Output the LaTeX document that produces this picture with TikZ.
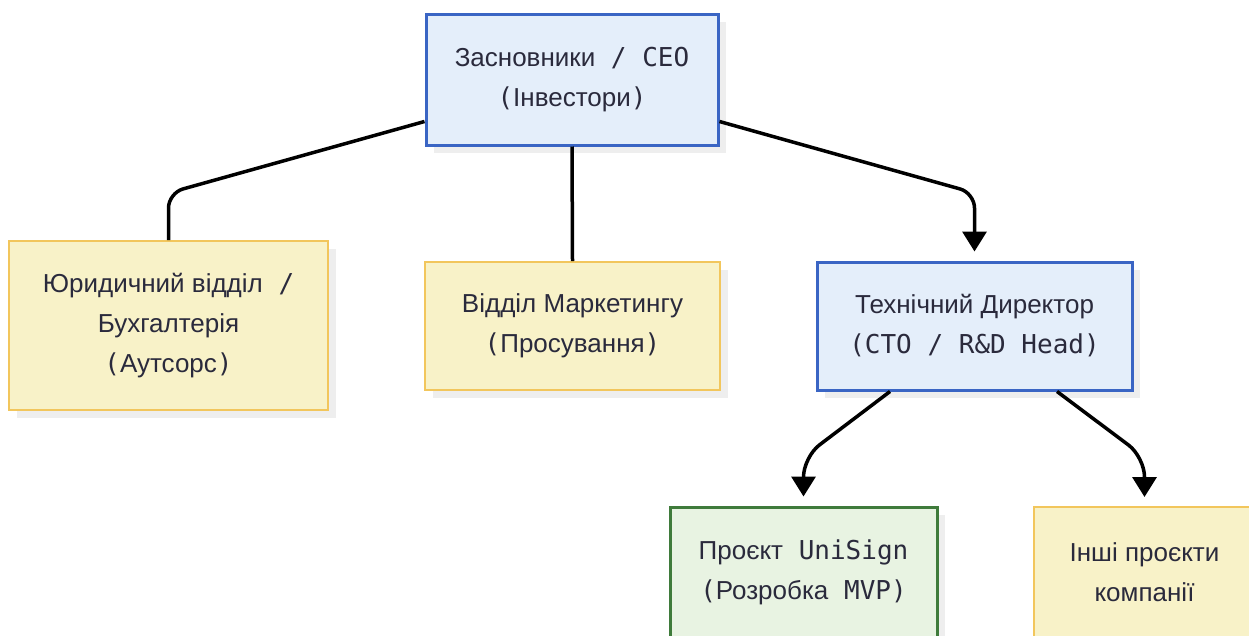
\documentclass[tikz,border=0pt]{standalone}
\usepackage{fontspec}
\setmainfont{DejaVu Sans Mono}
\newfontfamily\cyf{Liberation Sans}
\newcommand\cy[1]{{\cyf #1}}
\usetikzlibrary{arrows.meta,shadows,calc}
\definecolor{bluefill}{HTML}{E4EEFA}
\definecolor{blueline}{HTML}{3A65C4}
\definecolor{yelfill}{HTML}{F8F2C8}
\definecolor{yelline}{HTML}{F2C65C}
\definecolor{grnfill}{HTML}{E8F3E2}
\definecolor{grnline}{HTML}{3F7B3B}
\definecolor{shadowgray}{HTML}{EEEEEE}
\definecolor{txt}{HTML}{2A2A3C}
\tikzset{
  x=1pt, y=-1pt,
  box/.style={rectangle, align=center, inner sep=0pt, text=txt,
    font=\fontsize{26}{40}\selectfont,
    drop shadow={shadow xshift=8pt, shadow yshift=-8pt, opacity=1, fill=shadowgray}},
  bluebox/.style={box, fill=bluefill, draw=blueline, line width=3pt},
  yelbox/.style={box, fill=yelfill, draw=yelline, line width=2pt},
  grnbox/.style={box, fill=grnfill, draw=grnline, line width=3pt},
  conn/.style={draw=black, line width=3.5pt},
  arr/.style={conn, -{Triangle[length=20pt,width=24pt]}},
}
\begin{document}
\begin{tikzpicture}
\useasboundingbox (0,0) rectangle (1249,635);
\clip (0,0) rectangle (1249,635);
\fill[white] (0,0) rectangle (1249,635);

\node[bluebox, minimum width=292pt, minimum height=131pt] (ceo) at (572,79.5)
  {\cy{Засновники} / CEO\\(\cy{Інвестори})};
\node[yelbox, minimum width=319pt, minimum height=169pt] (legal) at (168.5,325.5)
  {\cy{Юридичний відділ} /\\\cy{Бухгалтерія}\\(\cy{Аутсорс})};
\node[yelbox, minimum width=295pt, minimum height=128pt] (mkt) at (572.5,326)
  {\cy{Відділ Маркетингу}\\(\cy{Просування})};
\node[bluebox, minimum width=315pt, minimum height=128pt] (cto) at (974.5,326)
  {\cy{Технічний Директор}\\(CTO / R\&D Head)};
\node[grnbox, minimum width=267pt, minimum height=130pt] (uni) at (803.5,572)
  {\cy{Проєкт} UniSign\\(\cy{Розробка} MVP)};
\node[yelbox, minimum width=221pt, minimum height=130pt] (other) at (1144.5,572)
  {\cy{Інші проєкти}\\\cy{компанії}};

\draw[conn, rounded corners=15pt] ([yshift=25pt]ceo.south west) -- (legal.north |- 0,193) -- (legal.north);
\draw[conn] (ceo.south) -- (mkt.north);
\draw[arr, rounded corners=15pt] ([yshift=25pt]ceo.south east) -- (cto.north |- 0,193) -- ([yshift=9pt]cto.north);
\draw[arr, rounded corners=20pt] ([xshift=-84.5pt]cto.south) -- (uni.north |- 0,457) -- ([yshift=9pt]uni.north);
\draw[arr, rounded corners=20pt] ([xshift=82.5pt]cto.south) -- (other.north |- 0,457) -- ([yshift=9pt]other.north);
\end{tikzpicture}
\end{document}
